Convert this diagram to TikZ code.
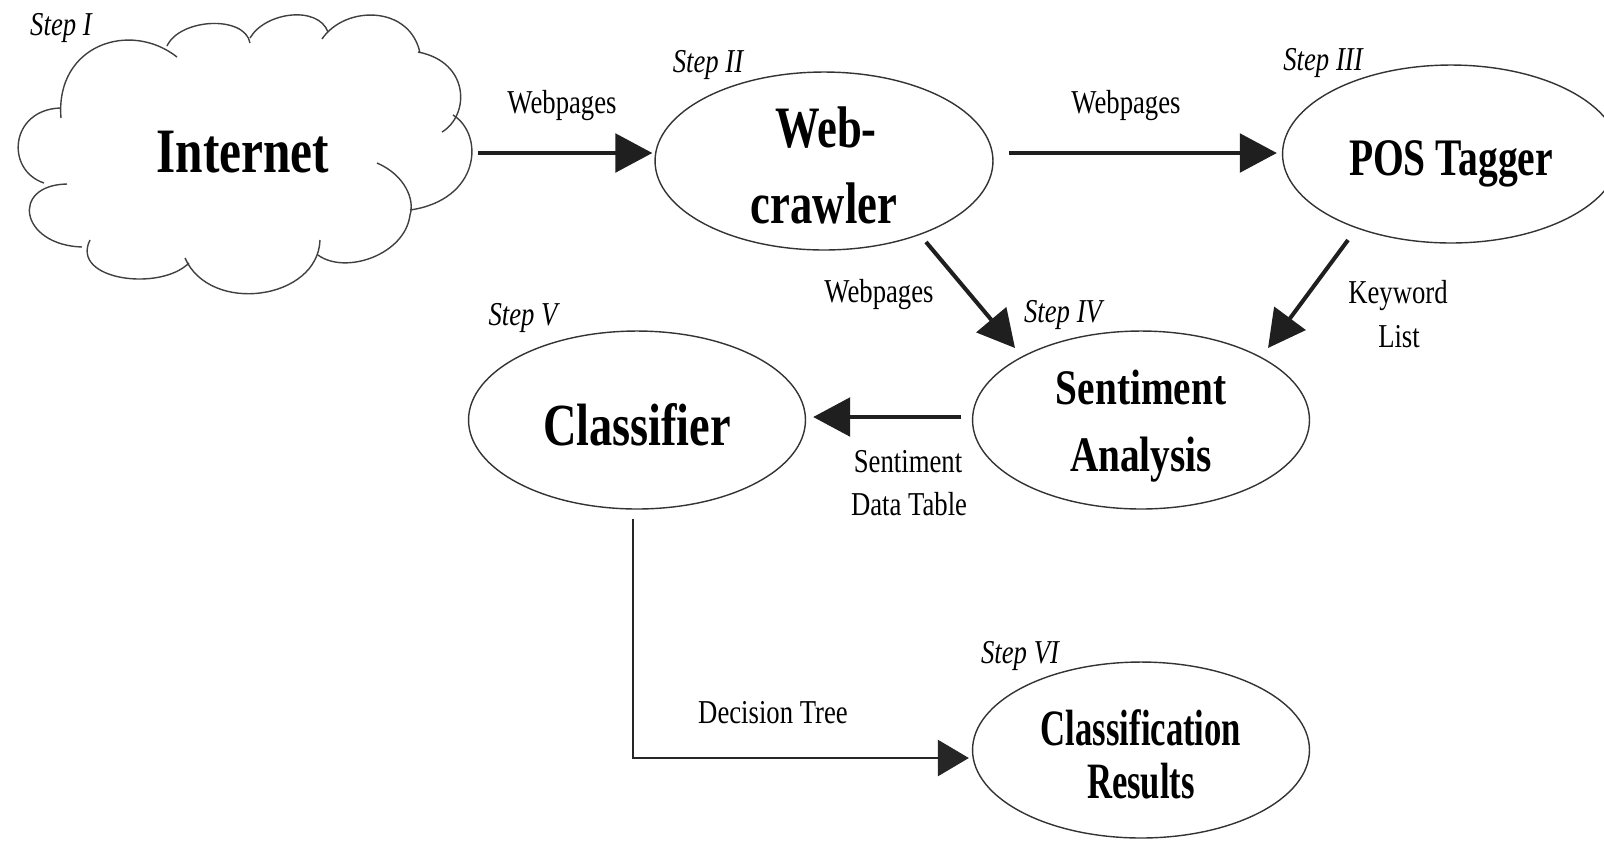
\documentclass[tikz,border=0pt]{standalone}
\usepackage{fontspec}
\setmainfont{Liberation Serif}
\usepackage{graphicx}
\usetikzlibrary{arrows.meta,shapes.geometric,calc}
% horizontally condensed text
\newcommand\hsq[2]{\scalebox{#1}[1]{#2}}

\begin{document}
\begin{tikzpicture}[x=0.02cm,y=-0.02cm,
  stage/.style={draw=black!80, line width=0.8pt, ellipse, inner sep=0pt,
                minimum width=6.74cm, minimum height=3.56cm},
  big/.style={inner sep=0pt, anchor=base, font=\bfseries\fontsize{#1}{#1}\selectfont},
  lbl/.style={inner sep=0pt, anchor=base, font=\fontsize{19}{22}\selectfont},
  steplbl/.style={inner sep=0pt, anchor=base, font=\itshape\fontsize{19}{22}\selectfont},
  arr/.style={draw=black!88, line width=2.3pt, -{Triangle[length=0.74cm,width=0.77cm]}},
  thinarr/.style={draw=black!85, line width=1.6pt, -{Triangle[length=0.62cm,width=0.72cm]}},
  puff/.style={draw=black!75, line width=0.8pt}
]
\useasboundingbox (0,0) rectangle (1604,840);

% ---- Step I: the Internet cloud ----
\node[inner sep=0pt, minimum width=9.32cm, minimum height=5.66cm] (net) at (245,153) {};
\draw[puff] (61,118) .. controls (55,45) and (130,20) .. (177,57);
\draw[puff] (167,46) .. controls (180,18) and (245,15) .. (250,43);
\draw[puff] (250,38) .. controls (265,12) and (318,5) .. (328,32);
\draw[puff] (322,39) .. controls (345,5) and (410,5) .. (420,53);
\draw[puff] (418,52) .. controls (470,62) and (470,115) .. (442,132);
\draw[puff] (453,115) .. controls (485,135) and (480,200) .. (410,210);
\draw[puff] (377,163) .. controls (405,175) and (415,200) .. (410,215)
                      .. controls (405,255) and (345,275) .. (318,255);
\draw[puff] (320,240) .. controls (318,300) and (210,315) .. (185,258);
\draw[puff] (189,263) .. controls (160,292) and (70,280) .. (90,240);
\draw[puff] (82,247) .. controls (20,245) and (10,185) .. (67,184);
\draw[puff] (44,183) .. controls (5,170) and (10,110) .. (60,108);
\node[big=36] (nettxt) at (243,172) {\hsq{0.78}{Internet}};
\node[steplbl] (s1) at (61,35) {\hsq{0.8}{Step I}};

% ---- stages ----
\node[stage, minimum width=6.76cm] (web) at (824,161) {};
\node[stage] (pos) at (1451,154) {};
\node[stage] (sent) at (1141,420) {};
\node[stage] (cls) at (637,420) {};
\node[stage, minimum height=3.52cm] (res) at (1141,750) {};

\node[big=33.4] (webtxtA) at (826,147) {\hsq{0.76}{Web-}};
\node[big=33.4] (webtxtB) at (824,223) {\hsq{0.76}{crawler}};
\node[big=30] (postxt) at (1451,175) {\hsq{0.75}{POS Tagger}};
\node[big=28.3] (senttxtA) at (1141,404) {\hsq{0.79}{Sentiment}};
\node[big=28.3] (senttxtB) at (1141,471) {\hsq{0.79}{Analysis}};
\node[big=34] (clstxt) at (637,445) {\hsq{0.776}{Classifier}};
\node[big=29] (restxtA) at (1141,745) {\hsq{0.68}{Classification}};
\node[big=29] (restxtB) at (1141,798) {\hsq{0.68}{Results}};

% ---- step labels ----
\node[steplbl] (s2) at (708,72) {\hsq{0.8}{Step II}};
\node[steplbl] (s3) at (1323,70) {\hsq{0.8}{Step III}};
\node[steplbl] (s4) at (1063,322) {\hsq{0.8}{Step IV}};
\node[steplbl] (s5) at (523,325) {\hsq{0.8}{Step V}};
\node[steplbl] (s6) at (1020,663) {\hsq{0.8}{Step VI}};

% ---- connectors ----
\draw[arr] (net.east) -- ($(web.west)+(-2,-8)$);
\draw[arr] ($(web.east)+(15,-8)$) -- ($(pos.west)+(-5,-1)$);
\draw[arr] ($(web.center)+(102,81)$) -- ($(sent.center)+(-126,-72)$);
\draw[arr] ($(pos.center)+(-103,86)$) -- ($(sent.center)+(127,-72)$);
\draw[arr] ($(sent.west)+(-11,-3)$) -- ($(cls.east)+(7,-3)$);
\draw[thinarr] ($(cls.south)+(-4,9)$) |- ($(res.west)+(-3,8)$);

% ---- connector labels ----
\node[lbl] (w1) at (562,113) {\hsq{0.8}{Webpages}};
\node[lbl] (w2) at (1126,113) {\hsq{0.8}{Webpages}};
\node[lbl] (w3) at (879,302) {\hsq{0.8}{Webpages}};
\node[lbl] (kwA) at (1398,303) {\hsq{0.8}{Keyword}};
\node[lbl] (kwB) at (1399,347) {\hsq{0.8}{List}};
\node[lbl] (sdA) at (908,472) {\hsq{0.8}{Sentiment}};
\node[lbl] (sdB) at (909,515) {\hsq{0.8}{Data Table}};
\node[lbl] (dt) at (773,723) {\hsq{0.8}{Decision Tree}};
\end{tikzpicture}
\end{document}
